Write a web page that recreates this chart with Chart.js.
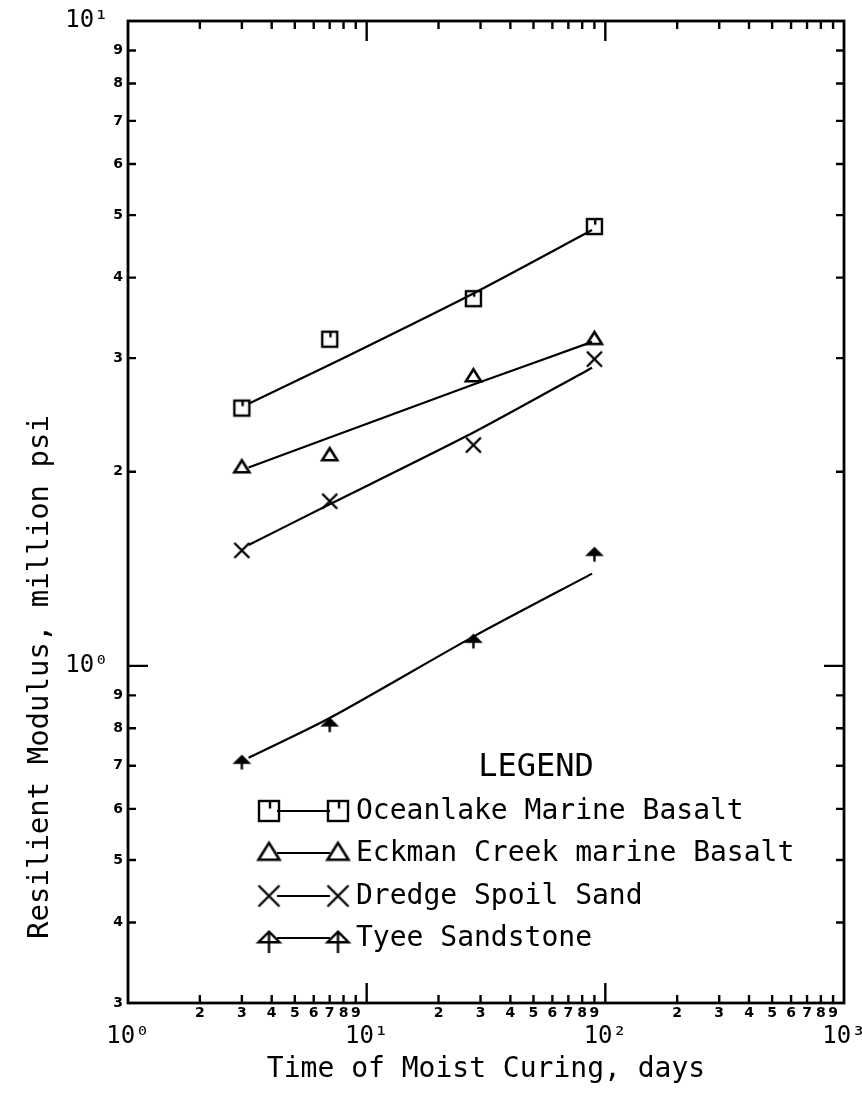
<!DOCTYPE html>
<html>
<head>
<meta charset="utf-8">
<script src="https://cdn.jsdelivr.net/npm/chart.js@4/dist/chart.umd.min.js"></script>
<style>
html,body{margin:0;padding:0;background:#fff;}
canvas{display:block;}
</style>
</head>
<body>
<canvas id="c" width="862" height="1097"></canvas>
<script>
// ---- data ----
const seriesNames = ['Oceanlake Marine Basalt', 'Eckman Creek marine Basalt', 'Dredge Spoil Sand', 'Tyee Sandstone'];
const curingDays = [3, 7, 28, 90];
const oceanlake = [2.51, 3.21, 3.71, 4.80];
const eckman    = [2.03, 2.12, 2.81, 3.21];
const dredge    = [1.51, 1.80, 2.20, 2.99];
const tyee      = [0.714, 0.816, 1.10, 1.50];

// fitted curves drawn through the points
const fitDays      = [3.2, 7, 28, 88];
const oceanlakeFit = [2.55, 2.93, 3.78, 4.74];
const eckmanFit    = [2.03, 2.26, 2.73, 3.18];
const dredgeFit    = [1.54, 1.78, 2.30, 2.90];
const tyeeFit      = [0.72, 0.83, 1.11, 1.39];

// axis ticks
const xTickValues = [1,2,3,4,5,6,7,8,9,10,20,30,40,50,60,70,80,90,100,200,300,400,500,600,700,800,900,1000];
const xTickLabels = ['10\u2070','2','3','4','5','6','7','8','9','10\u00b9','2','3','4','5','6','7','8','9','10\u00b2','2','3','4','5','6','7','8','9','10\u00b3'];
const yTickValues = [0.3,0.4,0.5,0.6,0.7,0.8,0.9,1,2,3,4,5,6,7,8,9,10];
const yTickLabels = ['3','4','5','6','7','8','9','10\u2070','2','3','4','5','6','7','8','9','10\u00b9'];
const majorValues = [1, 10, 100, 1000];

const xTitle = 'Time of Moist Curing, days';
const yTitle = 'Resilient Modulus, million psi';
const legendTitle = 'LEGEND';

// ---- marker images ----
function makeMarker(kind, s, lw, fill) {
  const pad = Math.ceil(lw) + 2;
  const c = document.createElement('canvas');
  const W = Math.round(s + pad * 2);
  const H = kind === 'arrow' ? Math.round(2 * s + pad * 2) : W;
  c.width = W; c.height = H;
  const g = c.getContext('2d');
  g.strokeStyle = '#000'; g.fillStyle = '#000';
  g.lineWidth = lw; g.lineJoin = 'miter';
  const cx = W / 2, cy = H / 2, h = s / 2;
  if (kind === 'square') {
    g.strokeRect(cx - h, cy - h, s, s);
    g.beginPath(); g.moveTo(cx + h * 0.1, cy - h); g.lineTo(cx + h * 0.1, cy - h * 0.25); g.stroke();
  } else if (kind === 'triangle') {
    const th = s * 0.8;
    g.beginPath(); g.moveTo(cx, cy - th * 0.6); g.lineTo(cx + h, cy + th * 0.4); g.lineTo(cx - h, cy + th * 0.4); g.closePath(); g.stroke();
  } else if (kind === 'cross') {
    g.beginPath(); g.moveTo(cx - h, cy - h); g.lineTo(cx + h, cy + h); g.moveTo(cx + h, cy - h); g.lineTo(cx - h, cy + h); g.stroke();
  } else if (kind === 'arrow') {
    const hh = s * 0.5;
    g.beginPath(); g.moveTo(cx, cy - hh * 0.6); g.lineTo(cx + h, cy + hh * 0.4); g.lineTo(cx - h, cy + hh * 0.4); g.closePath();
    if (fill) g.fill();
    g.stroke();
    g.beginPath(); g.moveTo(cx, cy - hh * 0.6); g.lineTo(cx, cy + s * 0.72); g.stroke();
  }
  return c;
}
const plotMarkers = [makeMarker('square', 15, 2.4), makeMarker('triangle', 15, 2.6), makeMarker('cross', 15, 2.4), makeMarker('arrow', 13, 2.4, true)];
const legendMarkers = [makeMarker('square', 20, 2.4), makeMarker('triangle', 21, 2.6), makeMarker('cross', 21, 2.4), makeMarker('arrow', 21, 2.4, false)];

const pointSeries = [oceanlake, eckman, dredge, tyee];
const fitSeries = [oceanlakeFit, eckmanFit, dredgeFit, tyeeFit];

const datasets = [];
fitSeries.forEach((vals, i) => {
  datasets.push({
    label: seriesNames[i] + ' fit',
    data: fitDays.map((d, k) => ({x: d, y: vals[k]})),
    showLine: true, borderColor: '#000', borderWidth: 2.2, pointRadius: 0, tension: 0.25, fill: false
  });
});
pointSeries.forEach((vals, i) => {
  datasets.push({
    label: seriesNames[i],
    data: curingDays.map((d, k) => ({x: d, y: vals[k]})),
    showLine: false, pointStyle: plotMarkers[i], pointRadius: 8, borderColor: '#000', backgroundColor: '#000',
    legendMarker: legendMarkers[i]
  });
});

const FONT_MONO = 'DejaVu Sans Mono';
const isMajor = v => majorValues.some(m => Math.abs(v - m) < 1e-9);

const whiteBg = {
  id: 'whiteBg',
  beforeDraw(chart) {
    const {ctx, width, height} = chart;
    ctx.save(); ctx.fillStyle = '#fff'; ctx.fillRect(0, 0, width, height); ctx.restore();
  }
};

const frameTicks = {
  id: 'frameTicks',
  afterDraw(chart) {
    const {ctx, chartArea: {left, right, top, bottom}, scales: {x, y}} = chart;
    ctx.save();
    ctx.strokeStyle = '#000';
    ctx.lineWidth = 2.8;
    ctx.strokeRect(left, top, right - left, bottom - top);
    ctx.lineWidth = 2.4;
    ctx.beginPath();
    x.ticks.forEach(t => {
      const px = x.getPixelForValue(t.value);
      const L = isMajor(t.value) ? 20 : 8;
      if (px <= left + 1 || px >= right - 1) return;
      ctx.moveTo(px, bottom); ctx.lineTo(px, bottom - L);
      ctx.moveTo(px, top); ctx.lineTo(px, top + L);
    });
    y.ticks.forEach(t => {
      const py = y.getPixelForValue(t.value);
      const L = isMajor(t.value) ? 20 : 8;
      if (py <= top + 1 || py >= bottom - 1) return;
      ctx.moveTo(left, py); ctx.lineTo(left + L, py);
      ctx.moveTo(right, py); ctx.lineTo(right - L, py);
    });
    ctx.stroke();
    ctx.restore();
  }
};

const yTitlePlugin = {
  id: 'yTitlePlugin',
  afterDraw(chart) {
    const {ctx} = chart;
    ctx.save();
    ctx.translate(40, 677);
    ctx.rotate(-Math.PI / 2);
    ctx.font = '29px "' + FONT_MONO + '"';
    ctx.fillStyle = '#000';
    ctx.textAlign = 'center';
    ctx.textBaseline = 'middle';
    ctx.fillText(yTitle, 0, 0);
    ctx.restore();
  }
};

const legendPlugin = {
  id: 'legendPlugin',
  afterDraw(chart) {
    const {ctx} = chart;
    const rows = [811, 853, 896, 938];
    const m1 = 269, m2 = 338, textX = 356;
    ctx.save();
    ctx.fillStyle = '#000';
    ctx.strokeStyle = '#000';
    ctx.textBaseline = 'middle';
    ctx.textAlign = 'center';
    ctx.font = '32px "' + FONT_MONO + '"';
    ctx.fillText(legendTitle, 536, 768);
    ctx.textAlign = 'left';
    ctx.font = '28px "' + FONT_MONO + '"';
    const pts = chart.data.datasets.filter(d => d.legendMarker);
    pts.forEach((ds, i) => {
      const yy = rows[i];
      ctx.lineWidth = 2.2;
      ctx.beginPath(); ctx.moveTo(m1 + 8, yy); ctx.lineTo(m2 - 8, yy); ctx.stroke();
      const img = ds.legendMarker;
      ctx.drawImage(img, m1 - img.width / 2, yy - img.height / 2);
      ctx.drawImage(img, m2 - img.width / 2, yy - img.height / 2);
      ctx.fillText(ds.label, textX, yy + 1);
    });
    ctx.restore();
  }
};

new Chart(document.getElementById('c'), {
  type: 'scatter',
  data: {datasets},
  options: {
    responsive: false,
    animation: false,
    devicePixelRatio: 1,
    layout: {padding: {left: 0, top: 21, right: 18, bottom: 0}},
    plugins: {legend: {display: false}, tooltip: {enabled: false}},
    scales: {
      x: {
        type: 'logarithmic', min: 1, max: 1000, position: 'bottom',
        afterBuildTicks: s => { s.ticks = xTickValues.map(v => ({value: v, major: isMajor(v)})); },
        afterFit: s => { s.height = 94; s.paddingLeft = 0; s.paddingRight = 0; },
        grid: {display: false, drawTicks: false},
        border: {display: false},
        ticks: {
          autoSkip: false, maxRotation: 0, minRotation: 0, padding: 3, color: '#000',
          callback: (v, i) => isMajor(xTickValues[i]) ? ['', xTickLabels[i]] : xTickLabels[i],
          font: c => (c.tick && isMajor(c.tick.value)) ? {family: FONT_MONO, size: 24, lineHeight: 0.85} : {family: 'DejaVu Sans', size: 14, weight: 'bold', lineHeight: 1.0}
        },
        title: {display: true, text: xTitle, color: '#000', font: {family: FONT_MONO, size: 28, lineHeight: 1.2}, padding: {top: 0, bottom: 10}}
      },
      y: {
        type: 'logarithmic', min: 0.3, max: 10, position: 'left',
        afterBuildTicks: s => { s.ticks = yTickValues.map(v => ({value: v, major: isMajor(v)})); },
        afterFit: s => { s.width = 128; s.paddingTop = 0; s.paddingBottom = 0; },
        grid: {display: false, drawTicks: false},
        border: {display: false},
        ticks: {
          autoSkip: false, padding: 5, color: '#000',
          callback: (v, i) => isMajor(yTickValues[i]) ? yTickLabels[i] + ' ' : yTickLabels[i],
          font: c => (c.tick && isMajor(c.tick.value)) ? {family: FONT_MONO, size: 24} : {family: 'DejaVu Sans', size: 14, weight: 'bold'}
        },
        title: {display: false}
      }
    }
  },
  plugins: [whiteBg, frameTicks, yTitlePlugin, legendPlugin]
});
</script>
</body>
</html>
